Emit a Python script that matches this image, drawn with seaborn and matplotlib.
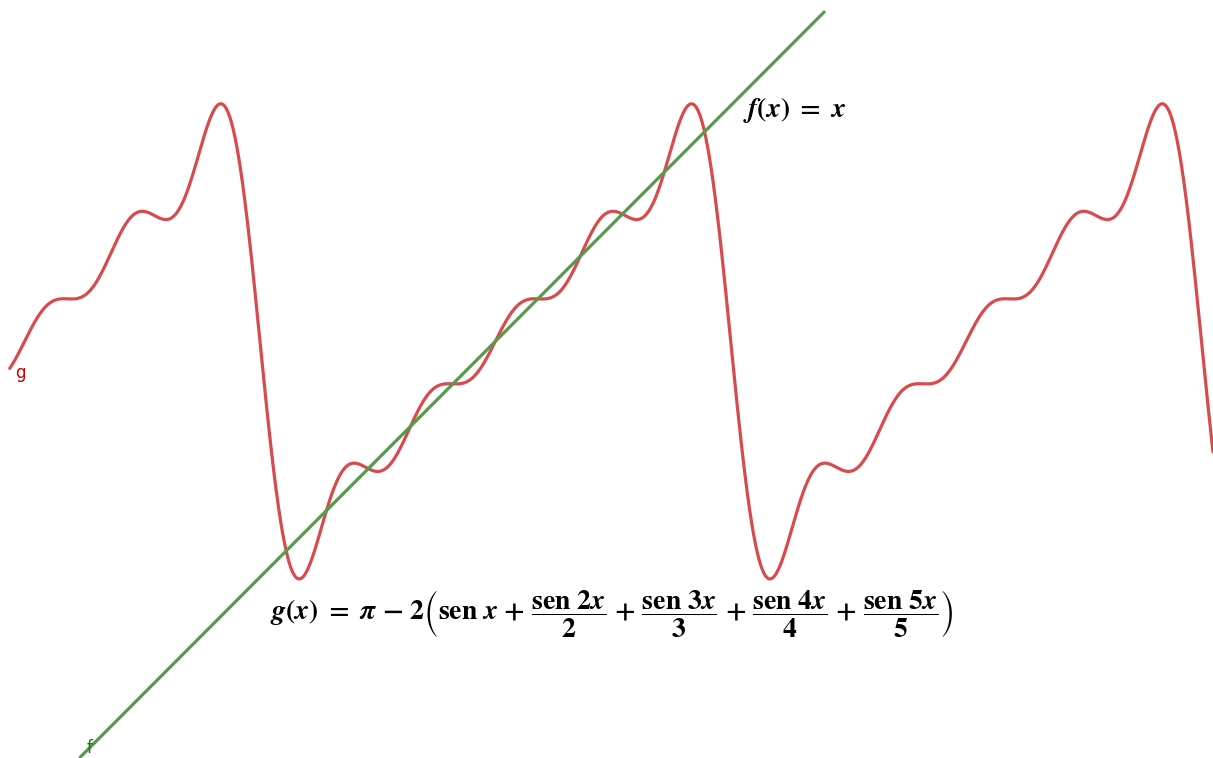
import numpy as np
import pandas as pd
import matplotlib
matplotlib.use("Agg")
import matplotlib.pyplot as plt
import seaborn as sns

# g(x) = pi - 2 * sum(sen(k x) / k), k = 1..5 
harmonics = [1, 2, 3, 4, 5]
divisors = [1, 2, 3, 4, 5]
g_offset = np.pi
g_factor = 2
# visible domain of each curve
g_domain = [-3.34, 12.72]
f_domain = [-2.40, 7.53]
# f(x) = x
f_slope = 1
f_intercept = 0

xs = np.linspace(g_domain[0], g_domain[1], 2000)
gs = g_offset - g_factor * sum(np.sin(k * xs) / d for k, d in zip(harmonics, divisors))
df_g = pd.DataFrame({"x": xs, "y": gs})
xf = np.array(f_domain)
df_f = pd.DataFrame({"x": xf, "y": f_slope * xf + f_intercept})

sns.set_style("white")
plt.rcParams["mathtext.fontset"] = "stix"

fig = plt.figure(figsize=(12.13, 7.58), dpi=100)
ax = fig.add_axes([0, 0, 1, 1])

sns.lineplot(data=df_g, x="x", y="y", ax=ax, color="#d94a4d", linewidth=2.3, sort=False)
sns.lineplot(data=df_f, x="x", y="y", ax=ax, color="#569a4c", linewidth=2.3, sort=False)

ax.set_xlim(-3.47, 12.72)
ax.set_ylim(-2.41, 7.69)
ax.axis("off")

# curve names
ax.text(-3.20, 2.72, "g", color="#cc0000", fontsize=12, ha="center", va="center")
ax.text(-2.27, -2.28, "f", color="#1a7a1a", fontsize=12, ha="center", va="center")

# formula labels
bx = r"\mathbfit{x}"
f_label = (r"$\mathbfit{f}\mathbf{(}" + bx + r"\mathbf{)}\ \mathbf{=}\ " + bx + "$")
frac = lambda k: (r"\ \mathbf{+}\ \dfrac{\mathbf{sen\ " + str(k) + "}" + bx + r"}{\mathbf{" + str(k) + "}}")
g_label = (r"$\mathbfit{g}\mathbf{(}" + bx + r"\mathbf{)}\ \mathbf{=}\ \boldsymbol{\pi}\ \mathbf{-}\ \mathbf{2}"
           r"\left(\mathbf{sen}\ " + bx + "".join(frac(k) for k in harmonics[1:])
           + r"\right)$")
ax.text(6.45, 6.22, f_label, fontsize=20, color="black", ha="left", va="center")
ax.text(0.13, -0.48, g_label, fontsize=20, color="black", ha="left", va="center")

fig.savefig("out.png", dpi=100)
